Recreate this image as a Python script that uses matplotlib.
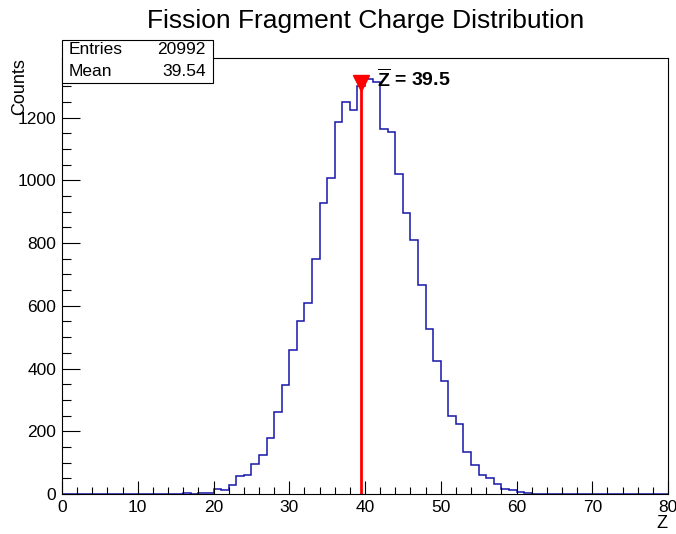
import matplotlib
matplotlib.use('Agg')
import matplotlib.pyplot as plt
import numpy as np
from matplotlib.ticker import MultipleLocator

plt.rcParams['font.family'] = ['Liberation Sans', 'DejaVu Sans']
plt.rcParams['mathtext.fontset'] = 'custom'
plt.rcParams['mathtext.rm'] = 'Liberation Sans'
plt.rcParams['mathtext.bf'] = 'Liberation Sans:bold'

# bin edges 0..80, width 1 (charge Z)
z_edges = np.arange(0, 81, 1)
counts = [0, 0, 0, 0, 0, 0, 0, 1, 0, 1,
          0, 0, 0, 0, 0, 0, 2, 0, 2, 4,
          16, 14, 28, 57, 61, 95, 123, 177, 260, 347,
          460, 553, 610, 748, 927, 1006, 1186, 1250, 1223, 1300,
          1324, 1313, 1163, 1154, 1021, 897, 811, 665, 527, 423,
          359, 249, 223, 135, 92, 62, 52, 32, 15, 13,
          7, 2, 0, 1, 1, 0, 0, 0, 0, 0,
          0, 1, 0, 0, 0, 0, 0, 0, 0, 0]
mean_z = 39.5
marker_y = 1310
stats_labels = ['Entries', 'Mean']
stats_values = ['20992', '39.54']

fig = plt.figure(figsize=(6.76, 5.34), dpi=100)
ax = fig.add_axes([62/676, 40/534, 606/676, 436/534])

ax.stairs(counts, z_edges, color='#1616a8', linewidth=1.1)
ax.axvline(mean_z, ymax=marker_y/1390, color='#ff0000', linewidth=2)
ax.plot([mean_z], [marker_y], marker='v', color='#ff0000', markersize=11, clip_on=False)
ax.text(mean_z + 2.1, marker_y + 12, r'$\mathbf{\overline{Z}}$ = 39.5', fontsize=14,
        fontweight='bold', va='center', ha='left')

ax.set_xlim(0, 80)
ax.set_ylim(0, 1390)
ax.xaxis.set_major_locator(MultipleLocator(10))
ax.xaxis.set_minor_locator(MultipleLocator(2))
ax.yaxis.set_major_locator(MultipleLocator(200))
ax.yaxis.set_minor_locator(MultipleLocator(50))
ax.tick_params(axis='both', which='both', direction='in', top=False, right=False,
               labelsize=12.5, width=0.8, color='black')
ax.tick_params(axis='y', which='major', length=13, pad=4)
ax.tick_params(axis='y', which='minor', length=6.5)
ax.tick_params(axis='x', which='major', length=9.5, pad=4)
ax.tick_params(axis='x', which='minor', length=4.8)
for s in ax.spines.values():
    s.set_linewidth(0.8)

fig.suptitle('Fission Fragment Charge Distribution', x=366/676, y=1-21/534,
             fontsize=19, va='center')
fig.text(662/676, 1-524/534, 'Z', fontsize=13, ha='center', va='center')
fig.text(20/676, 1-58/534, 'Counts', fontsize=13, rotation=90, ha='center', va='top')

# stats box
box = plt.Rectangle((62/676, 1-83/534), 151/676, 43/534, transform=fig.transFigure,
                    facecolor='white', edgecolor='black', linewidth=0.8, zorder=5)
fig.add_artist(box)
for i, (lab, val) in enumerate(zip(stats_labels, stats_values)):
    yy = 1 - (50 + 22*i)/534
    fig.text(69/676, yy, lab, fontsize=12.5, va='center', ha='left', zorder=6)
    fig.text(206/676, yy, val, fontsize=12.5, va='center', ha='right', zorder=6)

fig.savefig('out.png', dpi=100)
